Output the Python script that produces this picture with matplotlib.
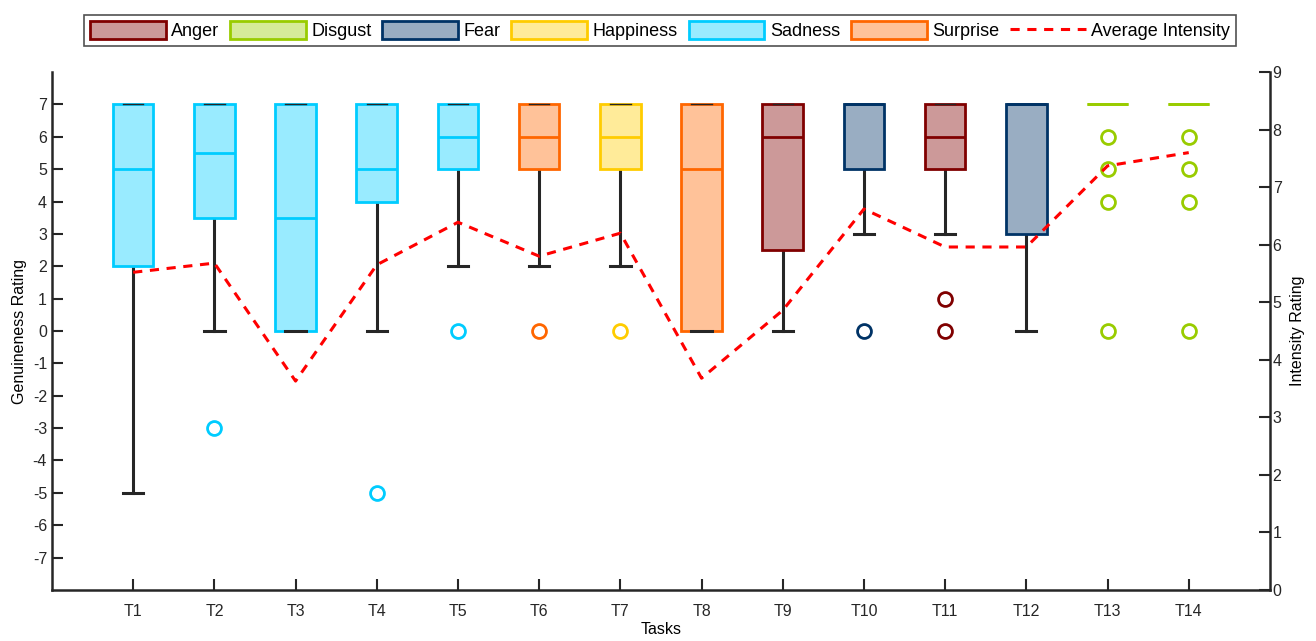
import matplotlib.pyplot as plt
from matplotlib.patches import Patch
from matplotlib.lines import Line2D

plt.rcParams['font.family'] = ['Liberation Sans', 'DejaVu Sans']
plt.rcParams['axes.unicode_minus'] = False

tasks = ['T1', 'T2', 'T3', 'T4', 'T5', 'T6', 'T7', 'T8', 'T9', 'T10', 'T11', 'T12', 'T13', 'T14']
emotion = ['Sadness', 'Sadness', 'Sadness', 'Sadness', 'Sadness', 'Surprise', 'Happiness',
           'Surprise', 'Anger', 'Fear', 'Anger', 'Fear', 'Disgust', 'Disgust']
q1 = [2, 3.5, 0, 4, 5, 5, 5, 0, 2.5, 5, 5, 3, 7, 7]
med = [5, 5.5, 3.5, 5, 6, 6, 6, 5, 6, 7, 6, 7, 7, 7]
q3 = [7, 7, 7, 7, 7, 7, 7, 7, 7, 7, 7, 7, 7, 7]
whislo = [-5, 0, 0, 0, 2, 2, 2, 0, 0, 3, 3, 0, 7, 7]
whishi = [7, 7, 7, 7, 7, 7, 7, 7, 7, 7, 7, 7, 7, 7]
fliers = [[], [-3], [], [-5], [0], [0], [0], [], [], [0], [1, 0], [], [6, 5, 4, 0], [6, 5, 4, 0]]
avg_intensity = [5.52, 5.68, 3.63, 5.65, 6.39, 5.8, 6.2, 3.68, 4.86, 6.62, 5.96, 5.96, 7.37, 7.6]

emotions = ['Anger', 'Disgust', 'Fear', 'Happiness', 'Sadness', 'Surprise']
edge_colors = {'Anger': '#800000', 'Disgust': '#99cc00', 'Fear': '#003366',
               'Happiness': '#ffcc00', 'Sadness': '#00ccff', 'Surprise': '#ff6600'}
face_colors = {'Anger': '#cc9999', 'Disgust': '#d6eb99', 'Fear': '#99adc2',
               'Happiness': '#ffeb99', 'Sadness': '#99ebff', 'Surprise': '#ffc299'}

fig = plt.figure(figsize=(13.16, 6.41), dpi=100)
ax = fig.add_axes([0.0395, 0.0796, 0.9255, 0.808])
dark = '#262626'

for i in range(len(tasks)):
    e = emotion[i]
    stats = [{'q1': q1[i], 'med': med[i], 'q3': q3[i], 'whislo': whislo[i],
              'whishi': whishi[i], 'fliers': fliers[i], 'label': tasks[i]}]
    bp = ax.bxp(stats, positions=[i + 1], widths=0.5, patch_artist=True,
                boxprops=dict(facecolor=face_colors[e], edgecolor=edge_colors[e], linewidth=2),
                medianprops=dict(color=edge_colors[e], linewidth=2),
                whiskerprops=dict(color=dark, linewidth=2.2),
                capprops=dict(color=dark, linewidth=2.2),
                flierprops=dict(marker='o', markerfacecolor='none', markeredgecolor=edge_colors[e],
                                markeredgewidth=2, markersize=10),
                capwidths=0.25, manage_ticks=False)
    # upper cap sits on the box edge, drawn thin
    bp['caps'][1].set_linewidth(1)
    bp['whiskers'][1].set_visible(False)
    bp['whiskers'][0].set_zorder(1)
    if q1[i] == q3[i]:
        for c in bp['caps']:
            c.set_visible(False)
        bp['whiskers'][0].set_visible(False)

ax.set_xlim(0, 15)
ax.set_ylim(-8, 8)
ax.set_xticks(range(1, len(tasks) + 1))
ax.set_xticklabels(tasks)
ax.set_yticks(range(-7, 8))
ax.set_xlabel('Tasks', fontsize=11.5, labelpad=2)
ax.set_ylabel('Genuineness Rating', fontsize=11.5, labelpad=4)
ax.tick_params(direction='in', length=8, width=1.5, labelsize=11.5, colors='#262626')
ax.tick_params(axis='x', pad=10)
ax.spines['top'].set_visible(False)
ax.spines['right'].set_visible(False)
for s in ['left', 'bottom']:
    ax.spines[s].set_linewidth(1.8)
    ax.spines[s].set_color('#262626')

ax2 = ax.twinx()
ax2.plot(range(1, len(tasks) + 1), avg_intensity, color='#ff0000', linestyle=(0, (3, 2.5)),
         linewidth=2.2)
ax2.set_ylim(0, 9)
ax2.set_yticks(range(0, 10))
ax2.set_ylabel('Intensity Rating', fontsize=11.5, labelpad=6)
ax2.tick_params(direction='in', length=8, width=1.5, labelsize=11.5, colors='#262626', pad=2)
ax2.spines['top'].set_visible(False)
ax2.spines['left'].set_visible(False)
ax2.spines['bottom'].set_visible(False)
ax2.spines['right'].set_linewidth(1.8)
ax2.spines['right'].set_color('#262626')

handles = [Patch(facecolor=face_colors[e], edgecolor=edge_colors[e], linewidth=2, label=e)
           for e in emotions]
handles.append(Line2D([0], [0], color='#ff0000', linestyle=(0, (3, 2.5)), linewidth=2.2,
                      label='Average Intensity'))
leg = fig.legend(handles=handles, loc='upper center', bbox_to_anchor=(0.5015, 0.99), ncol=7,
                 fontsize=13, frameon=True, fancybox=False, edgecolor='#262626',
                 handlelength=4.2, handleheight=1.2, handletextpad=0.3, columnspacing=0.6,
                 borderpad=0.3)
leg.get_frame().set_linewidth(1.2)

plt.savefig('out.png', dpi=100)
